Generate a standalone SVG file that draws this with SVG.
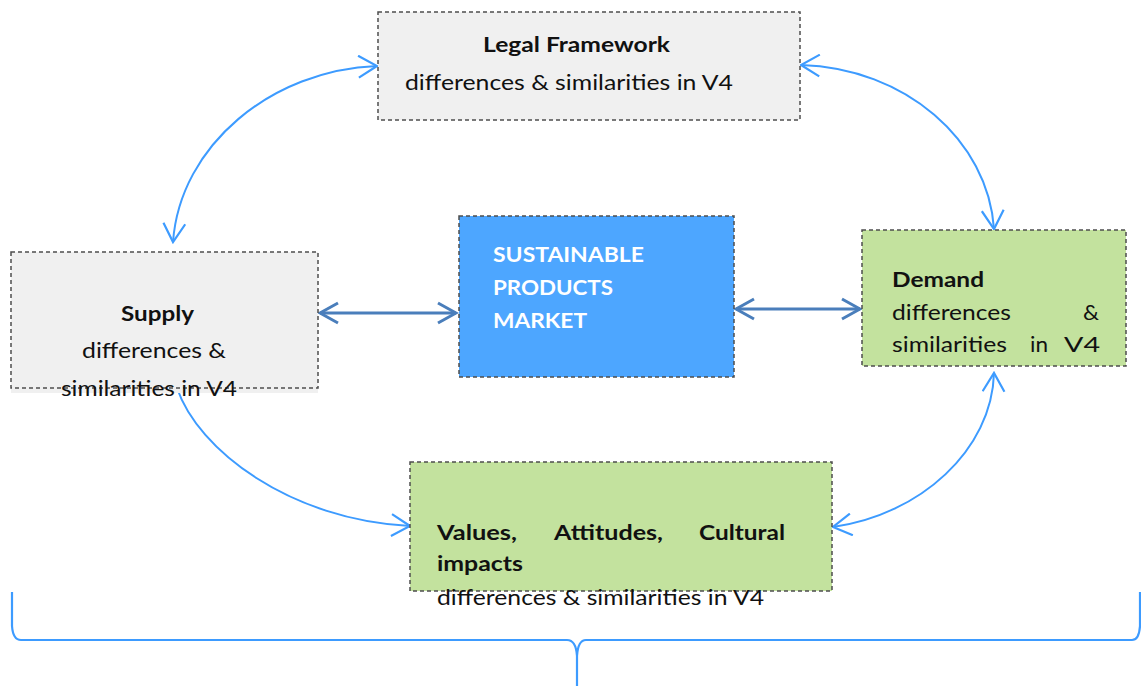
<svg xmlns="http://www.w3.org/2000/svg" width="1141" height="686" viewBox="0 0 1141 686">
  <style>
    .box { stroke: #4d4d4d; stroke-width: 1.5; stroke-dasharray: 4 3; }
    .gray { fill: #f0f0f0; }
    .green { fill: #c3e29e; }
    .blue { fill: #4da6ff; }
    text { font-family: Lato, "Liberation Sans", sans-serif; font-size: 21.5px; fill: #111; }
    .b { font-weight: bold; }
    .w { fill: #ffffff; font-weight: bold; }
    .curve { fill: none; stroke: #3d9bff; stroke-width: 2; }
    .straight { fill: none; stroke: #4a7ebb; stroke-width: 3; }
    .brace { fill: none; stroke: #3d9bff; stroke-width: 2.2; }
  </style>
  <defs>
    <marker id="openHead" markerUnits="userSpaceOnUse" markerWidth="22" markerHeight="24" viewBox="-18 -11 20 22" refX="0" refY="0" orient="auto-start-reverse">
      <path d="M-17,-10 L0,0 L-17,10" fill="none" stroke="#3d9bff" stroke-width="2"/>
    </marker>
    <marker id="openHeadDark" markerUnits="userSpaceOnUse" markerWidth="24" markerHeight="24" viewBox="-20 -12 22 24" refX="0" refY="0" orient="auto-start-reverse">
      <path d="M-18,-10 L0,0 L-18,10" fill="none" stroke="#4a7ebb" stroke-width="3"/>
    </marker>
  </defs>

  <!-- connectors -->
  <g id="connectors">
    <path class="curve" d="M377,66 C272,70 180,145 173,242" marker-start="url(#openHead)" marker-end="url(#openHead)"/>
    <path class="curve" d="M801,65 C905,68 988,140 994,229" marker-start="url(#openHead)" marker-end="url(#openHead)"/>
    <path class="curve" d="M994,373 C992,450 920,515 833,527" marker-start="url(#openHead)" marker-end="url(#openHead)"/>
    <path class="curve" d="M177,388 C198,450 290,520 410,526" marker-end="url(#openHead)"/>
    <path class="straight" d="M320,313 L456,313" marker-start="url(#openHeadDark)" marker-end="url(#openHeadDark)"/>
    <path class="straight" d="M736,309 L860,309" marker-start="url(#openHeadDark)" marker-end="url(#openHeadDark)"/>
    <path class="brace" d="M12,592 L12,626 Q13,640 21,640 L567,640 Q576,640 577,656 L577,686 M577,656 Q578,640 586,640 L1132,640 Q1139,640 1140,626 L1140,592"/>
  </g>

  <!-- Legal Framework -->
  <g id="legal">
    <rect class="box gray" x="378" y="12" width="422" height="108"/>
    <text class="b" x="483" y="52" textLength="187" lengthAdjust="spacingAndGlyphs">Legal Framework</text>
    <text x="405" y="90" textLength="328" lengthAdjust="spacingAndGlyphs">differences &amp; similarities in V4</text>
  </g>

  <!-- Supply -->
  <g id="supply">
    <rect class="gray" x="11" y="252" width="307" height="141"/>
    <rect class="box" x="11" y="252" width="307" height="136" fill="none"/>
    <text class="b" x="121" y="321" textLength="73" lengthAdjust="spacingAndGlyphs">Supply</text>
    <text x="82" y="358" textLength="144" lengthAdjust="spacingAndGlyphs">differences &amp;</text>
    <text x="61" y="396" textLength="176" lengthAdjust="spacingAndGlyphs">similarities in V4</text>
  </g>

  <!-- Sustainable products market -->
  <g id="market">
    <rect class="box blue" x="459" y="216" width="275" height="161"/>
    <text class="w" x="493" y="262" textLength="151" lengthAdjust="spacingAndGlyphs">SUSTAINABLE</text>
    <text class="w" x="493" y="295" textLength="120" lengthAdjust="spacingAndGlyphs">PRODUCTS</text>
    <text class="w" x="493" y="328" textLength="94" lengthAdjust="spacingAndGlyphs">MARKET</text>
  </g>

  <!-- Demand -->
  <g id="demand">
    <rect class="box green" x="862" y="230" width="264" height="136"/>
    <text class="b" x="892" y="287" textLength="92" lengthAdjust="spacingAndGlyphs">Demand</text>
    <text x="892" y="320" textLength="119" lengthAdjust="spacingAndGlyphs">differences</text>
    <text x="1083" y="320" textLength="16" lengthAdjust="spacingAndGlyphs">&amp;</text>
    <text x="892" y="352" textLength="115" lengthAdjust="spacingAndGlyphs">similarities</text>
    <text x="1030" y="352" textLength="18" lengthAdjust="spacingAndGlyphs">in</text>
    <text x="1064" y="352" textLength="36" lengthAdjust="spacingAndGlyphs">V4</text>
  </g>

  <!-- Values, attitudes, cultural impacts -->
  <g id="values">
    <rect class="box green" x="410" y="462" width="422" height="129"/>
    <text class="b" x="437" y="540" textLength="80" lengthAdjust="spacingAndGlyphs">Values,</text>
    <text class="b" x="554" y="540" textLength="109" lengthAdjust="spacingAndGlyphs">Attitudes,</text>
    <text class="b" x="699" y="540" textLength="86" lengthAdjust="spacingAndGlyphs">Cultural</text>
    <text class="b" x="437" y="571" textLength="86" lengthAdjust="spacingAndGlyphs">impacts</text>
    <text x="437" y="605" textLength="327" lengthAdjust="spacingAndGlyphs">differences &amp; similarities in V4</text>
  </g>
</svg>
